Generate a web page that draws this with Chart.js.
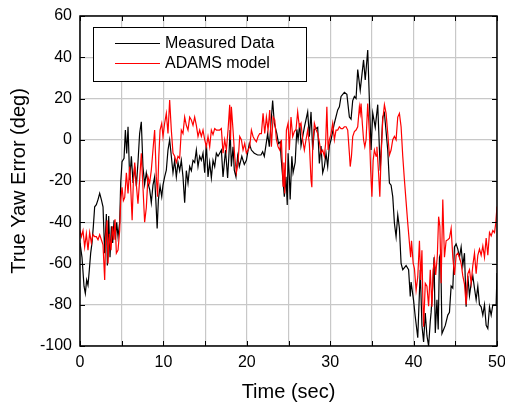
<!DOCTYPE html>
<html>
<head>
<meta charset="utf-8">
<script src="https://cdn.jsdelivr.net/npm/chart.js@4.4.0/dist/chart.umd.min.js"></script>
<style>
  html, body { margin: 0; padding: 0; background: #fff; }
  #wrap { width: 505px; height: 402px; }
</style>
</head>
<body>
<div id="wrap"><canvas id="chart" width="505" height="402"></canvas></div>
<script>
// measured data (sec, deg)
const measT = [0,0.24,0.48,0.64,0.8,0.96,1.12,1.28,1.44,1.6,1.76,1.96,2.16,2.36,2.56,2.76,2.96,3.16,3.28,3.44,3.6,3.76,3.92,4.08,4.24,4.4,4.56,4.76,4.88,5.04,5.28,5.44,5.6,5.76,5.96,6.16,6.36,6.56,6.76,6.95,7.15,7.35,7.55,7.75,7.95,8.15,8.35,8.55,8.75,8.95,9.1,9.25,9.4,9.6,9.8,9.95,10.15,10.35,10.55,10.75,10.95,11.15,11.35,11.55,11.75,11.95,12.15,12.35,12.55,12.75,12.95,13.15,13.35,13.55,13.75,13.95,14.15,14.35,14.55,14.75,14.95,15.15,15.35,15.55,15.75,15.95,16.15,16.35,16.55,16.95,17.15,17.45,17.7,17.85,18.0,18.15,18.35,18.5,18.7,18.9,19.1,19.4,19.7,19.95,20.3,20.55,20.9,21.3,21.7,21.9,22.1,22.5,22.7,22.9,23.1,23.3,23.6,23.8,24.0,24.1,24.3,24.5,24.7,24.85,24.95,25.1,25.2,25.4,25.55,25.8,26.0,26.15,26.35,26.5,26.9,27.3,27.5,27.7,27.9,28.1,28.5,28.7,28.9,29.1,29.3,29.5,29.7,29.9,30.1,30.5,30.9,31.1,31.3,31.7,32.0,32.3,32.5,32.7,32.9,33.1,33.3,33.6,34.0,34.2,34.5,34.7,34.9,35.1,35.4,35.7,36.0,36.3,36.5,36.9,37.1,37.3,37.5,37.7,37.9,38.1,38.3,38.5,38.7,39.1,39.4,39.6,39.7,40.0,40.2,40.5,40.8,41.0,41.2,41.4,41.6,41.8,42.0,42.1,42.3,42.45,42.6,42.8,42.95,43.1,43.25,43.4,43.6,43.8,44.1,44.3,44.5,44.7,44.9,45.1,45.3,45.5,45.7,45.9,46.1,46.3,46.5,46.7,46.9,47.1,47.3,47.5,47.7,47.9,48.1,48.3,48.5,48.7,48.9,49.1,49.3,49.5,49.7,49.9,50.0];
const measV = [-50,-57,-71,-74.5,-68,-70.5,-63,-55,-50,-42,-32.5,-31.5,-29,-26,-29,-32.5,-55,-36,-61,-37,-57,-42,-50,-39,-48.5,-40,-47,-40,-21,-10.6,-9,4.7,-6.6,6.3,-19.5,-8,-21,-13,-22.5,-11,3,8.7,-13,-21.7,-16,-21,-24,-30.5,-22,-18,-30,-43,-29,-22.5,-27.6,-22,-18,-14.7,-5,0,-8,-16,-10,-18,-11,-15,-10,-18,-30.5,-15,-21,-13,-15,-10,-11,-5,-13,-8,-10,-6.5,-16,-1.8,-18,-11,-18.5,-10,-13,-6.5,-8,-5,-18,-5,-18.5,-8,4.7,-13,-3.4,-14.7,-18,-8,-13,-8,-12,-10,-1.8,-5,-6.5,-7.4,-7.4,-5.8,-8,3,-3.4,8,19,8,3,-1.8,-1,-8,-18,-27.6,-18,-31.6,-6.6,-18,-29,-8,-16,-11,5,0,8,-3,6,13.5,1.5,13.5,-5,5,6,-11.5,-3,-16,-13,-6.6,-13,-3,0,8,14.5,16,21,23,22,11,10,19,21,20,34,24,38.7,29,43.5,19,-5,13,6,17,-15,11,13,-5,-21,-22,-27.6,-40.5,-47,-36.5,-43,-60,-63,-61,-63,-76,-69,-78,-85.8,-96,-63,-90,-98,-84,-95,-100,-88,-83.7,-71,-57,-93.7,-77.6,-92,-57,-55,-94,-92,-90,-85,-83.7,-71,-72,-52,-50.5,-53,-57,-52,-61,-55,-81,-66,-75.6,-69.6,-66,-72,-77.6,-71,-80,-81,-85,-80,-90,-91.6,-81,-85,-80,-80,-80,-64.6];

// ADAMS model (sec, deg)
const adamsT = [0,0.16,0.36,0.56,0.76,0.96,1.16,1.36,1.56,1.76,1.96,2.16,2.36,2.56,2.76,2.96,3.08,3.24,3.36,3.52,3.72,3.88,4.04,4.2,4.36,4.56,4.76,4.88,5.04,5.2,5.36,5.56,5.76,5.96,6.1,6.25,6.4,6.56,6.76,6.95,7.15,7.35,7.55,7.75,7.95,8.15,8.35,8.55,8.75,8.95,9.15,9.3,9.45,9.6,9.8,9.95,10.15,10.35,10.55,10.75,10.95,11.15,11.35,11.55,11.75,11.95,12.15,12.35,12.55,12.75,12.95,13.15,13.35,13.55,13.75,13.95,14.15,14.35,14.55,14.75,14.95,15.15,15.35,15.55,15.75,15.95,16.15,16.35,16.55,16.75,16.95,17.15,17.35,17.55,17.75,17.95,18.05,18.15,18.35,18.55,18.75,18.95,19.15,19.35,19.55,19.75,19.95,20.15,20.35,20.55,20.75,20.95,21.15,21.35,21.55,21.75,21.95,22.15,22.35,22.55,22.75,22.95,23.15,23.35,23.55,23.75,23.95,24.15,24.35,24.45,24.55,24.75,24.95,25.1,25.3,25.5,25.7,25.9,26.1,26.3,26.5,26.7,26.9,27.1,27.3,27.5,27.7,27.8,27.9,28.1,28.3,28.5,28.7,28.9,29.1,29.3,29.45,29.6,29.75,29.9,30.1,30.3,30.5,30.7,30.9,31.1,31.3,31.5,31.7,31.9,32.1,32.3,32.4,32.55,32.7,32.9,33.1,33.3,33.5,33.6,33.7,33.85,34.0,34.15,34.3,34.5,34.7,34.85,35.0,35.15,35.3,35.5,35.6,35.8,35.95,36.1,36.3,36.5,36.7,36.9,37.1,37.3,37.5,37.7,37.9,38.1,38.3,38.5,38.7,38.9,39.1,39.3,39.5,39.65,39.75,39.95,40.1,40.3,40.5,40.7,40.85,41.0,41.1,41.2,41.4,41.6,41.8,42.0,42.2,42.35,42.5,42.65,42.85,43.0,43.15,43.3,43.5,43.7,43.9,44.1,44.3,44.5,44.7,44.9,45.1,45.3,45.5,45.7,45.9,46.1,46.3,46.5,46.7,46.9,47.1,47.3,47.5,47.7,47.9,48.1,48.3,48.5,48.7,48.9,49.1,49.3,49.5,49.7,49.85,50.0];
const adamsV = [-44,-47,-44,-52,-45.6,-53.5,-45,-50,-46,-47,-47,-48.5,-46,-48.5,-51,-68,-47,-39,-60,-45.6,-53.5,-42,-48.5,-38.6,-55,-53.5,-44,-29.5,-23,-29.5,-28,-16,-26,-13,-25,-39,-20,-11,-22,-31,-19.5,-6.6,-23,-40,-33,-18,-21,-14.7,-5,4.7,-18,-27.6,-8,4.7,8,1.6,8,12.8,3,19.3,4.7,-6.5,-8,-11,-8,-9,4.7,3,11,7,4.7,11,9.6,7,11,7,1.6,4.7,1.6,4.7,0,-3.4,1.6,-3.4,4.7,2.5,5.4,4.7,4.7,4.7,5.4,-6.5,0,-5,4.7,17,0,16,4.7,-8,-16,-11,1.6,0,-5,-1.8,-6.5,-5,-3.4,4.7,1.6,0,-1,1.6,3,3,12.8,3,11,4.7,14.4,-3.4,11,9.6,0,-3.4,-5,0,-22.5,-11,-26,4.7,8,-5,11,1.5,4,5,13.5,6.3,8,0,-5,0,4.7,-1.8,-19.4,-23,-3.4,8,5,3,-1,-6.6,-5,-8,-1.8,16,-5,0,3,8,0,4.7,4.7,6.3,5.4,5.4,6.3,6.3,4.7,-6.6,-13,-8,1.5,4,4.7,6.3,16,12.8,17.6,8,0,-3.4,0,17.6,3,-14.7,-27.6,-10,-5,-8,-3.4,-16,-27.6,-8,9.6,17,12.8,3,-7.4,-5,0,1.6,0,11,12.8,6.3,-8,-19.5,-30,-40.5,-50,-57,-49,-60,-62.5,-73,-66.5,-49,-68,-53.6,-76,-90.6,-69.6,-71,-80.7,-63,-81,-63,-58,-65.5,-56,-37.3,-42,-69.6,-29,-57,-49,-48.5,-47.7,-43,-57,-65.5,-56,-55,-57,-60,-66,-70,-80,-65,-63,-69.6,-61,-55,-65,-56,-53,-56,-51.5,-57,-47.7,-56,-45,-46.6,-44,-45,-40.5,-32.4];

const FONT = 'Liberation Sans, Arial, sans-serif';

// box, inward ticks and legend like the Origin plot
const framePlugin = {
  id: 'frame',
  afterDatasetsDraw(chart) {
    const ctx = chart.ctx;
    const a = chart.chartArea;
    const xs = chart.scales.x, ys = chart.scales.y;
    ctx.save();
    ctx.strokeStyle = '#000';
    ctx.lineWidth = 1;
    ctx.beginPath();
    xs.ticks.forEach(t => {
      const px = Math.round(xs.getPixelForValue(t.value)) + 0.5;
      ctx.moveTo(px, a.bottom); ctx.lineTo(px, a.bottom - 5);
      ctx.moveTo(px, a.top); ctx.lineTo(px, a.top + 5);
    });
    ys.ticks.forEach(t => {
      const py = Math.round(ys.getPixelForValue(t.value)) + 0.5;
      ctx.moveTo(a.left, py); ctx.lineTo(a.left + 5, py);
      ctx.moveTo(a.right, py); ctx.lineTo(a.right - 5, py);
    });
    ctx.stroke();
    ctx.lineWidth = 1.5;
    ctx.strokeRect(a.left, a.top, a.right - a.left, a.bottom - a.top);

    // legend
    const lx = 93.5, ly = 27.5, lw = 213, lh = 54;
    ctx.fillStyle = '#fff';
    ctx.fillRect(lx, ly, lw, lh);
    ctx.lineWidth = 1;
    ctx.strokeRect(lx, ly, lw, lh);
    ctx.font = '16px ' + FONT;
    ctx.textBaseline = 'middle';
    chart.data.datasets.forEach((ds, i) => {
      const yy = 43.5 + i * 20;
      ctx.strokeStyle = ds.borderColor;
      ctx.lineWidth = 1.2;
      ctx.beginPath();
      ctx.moveTo(115, yy); ctx.lineTo(160, yy);
      ctx.stroke();
      ctx.fillStyle = '#000';
      ctx.fillText(ds.label, 165, yy + 0.5);
    });
    ctx.restore();
  }
};

new Chart(document.getElementById('chart'), {
  type: 'line',
  data: {
    datasets: [
      { label: 'Measured Data', data: measT.map((t, i) => ({x: t, y: measV[i]})),
        borderColor: '#000000', borderWidth: 1.2, pointRadius: 0, order: 1 },
      { label: 'ADAMS model', data: adamsT.map((t, i) => ({x: t, y: adamsV[i]})),
        borderColor: '#ff0000', borderWidth: 1.2, pointRadius: 0, order: 0 }
    ]
  },
  options: {
    responsive: false, animation: false,
    layout: { padding: { left: 0, right: 8, top: 16, bottom: 0 } },
    plugins: { legend: { display: false }, tooltip: { enabled: false } },
    scales: {
      x: {
        type: 'linear', min: 0, max: 50,
        border: { display: false },
        grid: { color: '#c8c8c8', lineWidth: 1.2, drawTicks: false },
        ticks: { stepSize: 5, padding: 7, color: '#000', maxRotation: 0,
          font: { family: FONT, size: 16 },
          callback: v => (v % 10 === 0 ? v : '') },
        title: { display: true, text: 'Time (sec)', color: '#000',
          font: { family: FONT, size: 20, lineHeight: 1 }, padding: { top: 0, bottom: 0 } },
        afterFit: s => { s.height = 56; s.paddingLeft = 0; s.paddingRight = 0; }
      },
      y: {
        min: -100, max: 60,
        border: { display: false },
        grid: { color: '#c8c8c8', lineWidth: 1.2, drawTicks: false },
        ticks: { stepSize: 10, padding: 8, color: '#000',
          font: { family: FONT, size: 16 },
          callback: v => (v % 20 === 0 ? v : '') },
        title: { display: true, text: 'True Yaw Error (deg)', color: '#000',
          font: { family: FONT, size: 20, lineHeight: 1 }, padding: { top: 9, bottom: 0 } },
        afterFit: s => { s.width = 80; s.paddingTop = 0; s.paddingBottom = 0; }
      }
    }
  },
  plugins: [framePlugin]
});
</script>
</body>
</html>
